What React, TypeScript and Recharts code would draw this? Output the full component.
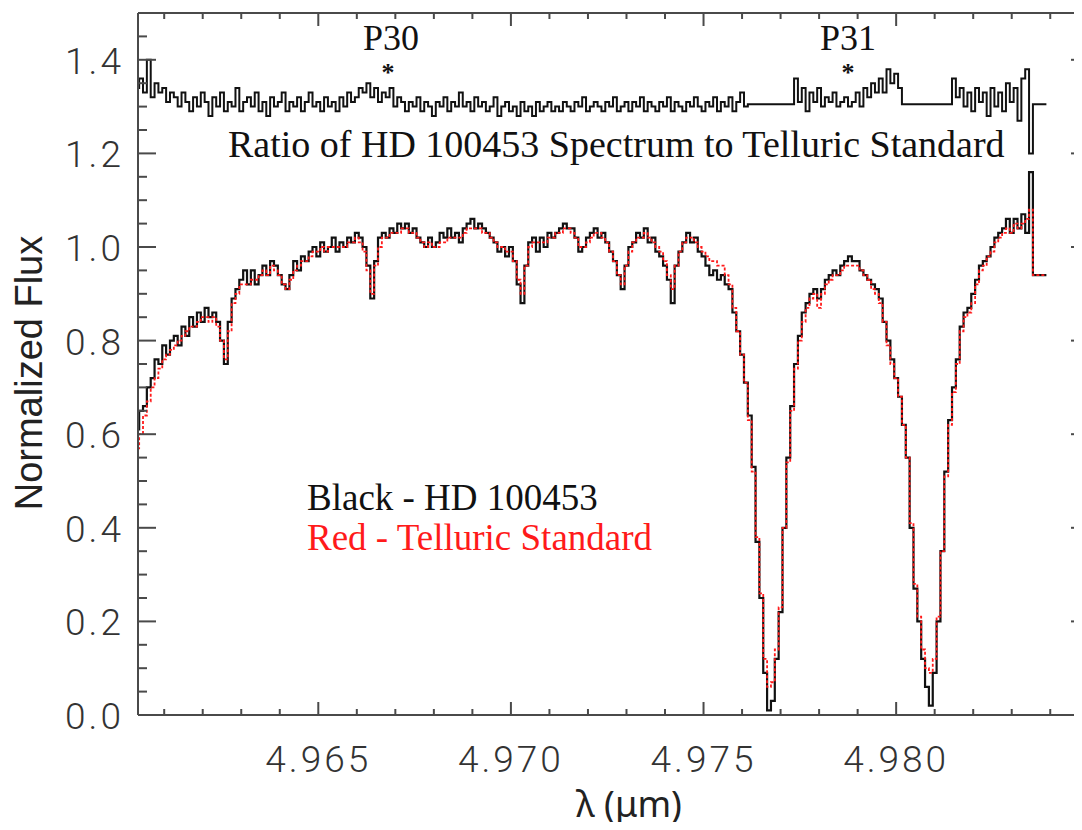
import { Line, LineChart, XAxis, YAxis } from 'recharts'

// wavelength grid of the spectra (µm)
const WL_START = 4.9603
const WL_STEP = 0.0001

// HD 100453, normalized flux (black)
const FLUX = [
  0.61, 0.65, 0.66, 0.7, 0.72, 0.76, 0.75, 0.79, 0.77, 0.8,
  0.81, 0.79, 0.83, 0.81, 0.85, 0.83, 0.86, 0.84, 0.87, 0.85,
  0.86, 0.84, 0.8, 0.75, 0.84, 0.89, 0.91, 0.93, 0.95, 0.92,
  0.95, 0.92, 0.94, 0.96, 0.94, 0.97, 0.96, 0.94, 0.92, 0.91,
  0.94, 0.97, 0.95, 0.98, 0.97, 0.99, 1.0, 0.98, 1.01, 0.99,
  1.0, 1.02, 0.99, 1.01, 1.0, 1.02, 1.01, 1.03, 1.02, 1.0,
  0.96, 0.89, 0.97, 1.02, 1.03, 1.02, 1.04, 1.03, 1.05, 1.04,
  1.05, 1.03, 1.04, 1.02, 1.01, 1.0, 1.02, 1.0, 1.01, 1.03,
  1.02, 1.04, 1.02, 1.03, 1.01, 1.04, 1.05, 1.06, 1.04, 1.05,
  1.04, 1.03, 1.02, 1.01, 0.99, 1.0, 0.98, 1.0, 0.97, 0.92,
  0.88, 0.96, 1.01, 1.02, 0.99, 1.02, 1.0, 1.03, 1.02, 1.03,
  1.04, 1.05, 1.04, 1.04, 1.02, 0.99, 1.0, 1.02, 1.03, 1.04,
  1.02, 1.03, 1.01, 0.99, 0.97, 0.94, 0.91, 0.96, 1.0, 1.01,
  1.03, 1.02, 1.04, 1.01, 1.02, 0.99, 0.98, 0.96, 0.93, 0.88,
  0.96, 0.99, 1.01, 1.03, 1.01, 1.02, 0.99, 0.98, 0.96, 0.94,
  0.95, 0.93, 0.94, 0.92, 0.91, 0.86, 0.82, 0.77, 0.71, 0.64,
  0.53, 0.37, 0.25, 0.09, 0.01, 0.03, 0.12, 0.22, 0.4, 0.55,
  0.66, 0.75, 0.81, 0.86, 0.88, 0.9, 0.91, 0.89, 0.91, 0.93,
  0.94, 0.95, 0.94, 0.96, 0.97, 0.98, 0.97, 0.97, 0.95, 0.94,
  0.93, 0.92, 0.91, 0.89, 0.84, 0.8, 0.76, 0.72, 0.68, 0.62,
  0.55, 0.4, 0.27, 0.2, 0.12, 0.06, 0.02, 0.09, 0.2, 0.35,
  0.52, 0.63, 0.7, 0.76, 0.83, 0.86, 0.87, 0.9, 0.93, 0.96,
  0.97, 0.98, 1.0, 1.02, 1.03, 1.04, 1.06, 1.03, 1.06, 1.04,
  1.07, 1.03, 1.16, 0.94, 0.94, 0.94, 0.94,
]

// telluric standard (red)
const TELLURIC = [
  0.57, 0.6, 0.64, 0.67, 0.7, 0.72, 0.74, 0.76, 0.77, 0.78,
  0.79, 0.8, 0.81, 0.82, 0.83, 0.83, 0.84, 0.85, 0.85, 0.84,
  0.85, 0.83, 0.8, 0.76, 0.82, 0.88, 0.9, 0.92, 0.92, 0.92,
  0.93, 0.93, 0.94, 0.95, 0.94, 0.96, 0.95, 0.94, 0.92, 0.91,
  0.93, 0.95, 0.96, 0.97, 0.97, 0.98, 0.99, 0.99, 1.0, 0.99,
  1.0, 1.0, 1.0, 1.0, 1.0, 1.01, 1.01, 1.02, 1.01, 0.99,
  0.95, 0.9, 0.96, 1.0, 1.02, 1.02, 1.03, 1.03, 1.03, 1.04,
  1.04, 1.03, 1.03, 1.02, 1.01, 1.0, 1.01, 1.0, 1.0, 1.01,
  1.01, 1.02, 1.02, 1.02, 1.02, 1.03, 1.04, 1.04, 1.04, 1.04,
  1.03, 1.03, 1.02, 1.01, 1.0, 1.0, 0.99, 0.99, 0.97, 0.93,
  0.9, 0.96, 1.0, 1.01, 1.01, 1.01, 1.01, 1.02, 1.02, 1.03,
  1.03, 1.04, 1.04, 1.03, 1.02, 1.0, 1.0, 1.01, 1.02, 1.03,
  1.03, 1.02, 1.01, 0.99, 0.97, 0.94, 0.92, 0.96, 0.99, 1.01,
  1.02, 1.02, 1.03, 1.02, 1.01, 1.0, 0.99, 0.97, 0.94, 0.91,
  0.96, 0.99, 1.01, 1.02, 1.02, 1.01, 1.0, 0.99, 0.98, 0.97,
  0.97, 0.96, 0.96, 0.94, 0.92, 0.87, 0.82, 0.77, 0.71, 0.63,
  0.52, 0.38, 0.26, 0.12, 0.06, 0.07, 0.14, 0.23, 0.4, 0.54,
  0.65, 0.74, 0.8, 0.84, 0.87, 0.89, 0.9, 0.87, 0.9, 0.92,
  0.93, 0.94, 0.94, 0.95, 0.96, 0.96, 0.96, 0.96, 0.95, 0.94,
  0.93, 0.91, 0.9, 0.88, 0.84, 0.79, 0.75, 0.72, 0.68, 0.62,
  0.55, 0.41, 0.28, 0.21, 0.14, 0.1, 0.09, 0.12, 0.21, 0.35,
  0.51, 0.62, 0.69, 0.75, 0.82, 0.85, 0.86, 0.88, 0.92, 0.95,
  0.96, 0.98, 0.99, 1.01, 1.02, 1.03, 1.04, 1.03, 1.05, 1.04,
  1.05, 1.06, 1.08, 0.94, 0.94, 0.94, 0.94,
]

// ratio HD 100453 / telluric, offset (flat where no ratio was taken)
const RATIO = [
  1.34, 1.36, 1.33, 1.4, 1.32, 1.35, 1.33, 1.34, 1.31, 1.33,
  1.32, 1.3, 1.33, 1.31, 1.29, 1.32, 1.3, 1.33, 1.31, 1.28,
  1.32, 1.3, 1.33, 1.29, 1.31, 1.3, 1.34, 1.29, 1.31, 1.32,
  1.3, 1.33, 1.29, 1.31, 1.28, 1.32, 1.3, 1.31, 1.33, 1.29,
  1.31, 1.3, 1.32, 1.29, 1.31, 1.33, 1.3, 1.31, 1.29, 1.32,
  1.3, 1.31, 1.29, 1.32, 1.3, 1.33, 1.31, 1.32, 1.34, 1.33,
  1.35, 1.32, 1.34, 1.31, 1.33, 1.32, 1.34, 1.3, 1.32, 1.31,
  1.29, 1.31, 1.3, 1.32, 1.29, 1.31, 1.3, 1.28, 1.31, 1.3,
  1.32, 1.29, 1.31, 1.3, 1.33, 1.3, 1.31, 1.29, 1.32, 1.3,
  1.31, 1.29, 1.3, 1.32, 1.28, 1.3, 1.31, 1.29, 1.3, 1.28,
  1.31, 1.29, 1.3, 1.28, 1.31, 1.29, 1.3, 1.31, 1.29, 1.3,
  1.29, 1.31, 1.3, 1.29, 1.31, 1.3, 1.32, 1.29, 1.3, 1.31,
  1.3, 1.29, 1.31, 1.3, 1.32, 1.29, 1.3, 1.31, 1.29, 1.31,
  1.3, 1.32, 1.29, 1.31, 1.3, 1.29, 1.31, 1.3, 1.32, 1.29,
  1.31, 1.3, 1.29, 1.31, 1.3, 1.32, 1.3, 1.29, 1.31, 1.3,
  1.32, 1.29, 1.31, 1.3, 1.32, 1.29, 1.31, 1.33, 1.3, 1.305,
  1.305, 1.305, 1.305, 1.305, 1.305, 1.305, 1.305, 1.305, 1.305, 1.305,
  1.305, 1.36, 1.31, 1.34, 1.29, 1.33, 1.31, 1.34, 1.3, 1.32,
  1.31, 1.33, 1.3, 1.31, 1.32, 1.3, 1.31, 1.33, 1.3, 1.34,
  1.32, 1.35, 1.33, 1.36, 1.33, 1.38, 1.35, 1.37, 1.34, 1.305,
  1.305, 1.305, 1.305, 1.305, 1.305, 1.305, 1.305, 1.305, 1.305, 1.305,
  1.305, 1.305, 1.36, 1.32, 1.34, 1.3, 1.33, 1.29, 1.34, 1.31,
  1.33, 1.28, 1.34, 1.3, 1.33, 1.29, 1.35, 1.31, 1.34, 1.27,
  1.36, 1.38, 1.2, 1.305, 1.305, 1.305, 1.305,
]

const X_TICKS = [
  4.961, 4.962, 4.963, 4.964, 4.965, 4.966, 4.967, 4.968, 4.969, 4.97,
  4.971, 4.972, 4.973, 4.974, 4.975, 4.976, 4.977, 4.978, 4.979, 4.98,
  4.981, 4.982, 4.983, 4.984,
]
const X_LABELS = ['4.965', '4.970', '4.975', '4.980']
const Y_TICKS = [
  0, 0.05, 0.1, 0.15, 0.2, 0.25, 0.3, 0.35, 0.4, 0.45, 0.5, 0.55, 0.6, 0.65, 0.7, 0.75,
  0.8, 0.85, 0.9, 0.95, 1.0, 1.05, 1.1, 1.15, 1.2, 1.25, 1.3, 1.35, 1.4, 1.45, 1.5,
]
const Y_LABELS = ['0.0', '0.2', '0.4', '0.6', '0.8', '1.0', '1.2', '1.4']

const rows = FLUX.map((f, i) => ({
  wl: WL_START + i * WL_STEP,
  flux: f,
  tell: TELLURIC[i],
  ratio: RATIO[i],
}))

const W = 1100
const H = 830
const LEFT = 138
const RIGHT = 1088
const TOP = 13
const BOTTOM = 715
const AXIS = '#4a4a4a'
const TICK_FONT = { fontFamily: 'Roboto, sans-serif', fontWeight: 300, fontSize: 37, fill: '#333', letterSpacing: 3 }
const SERIF = '"Liberation Serif", "Times New Roman", serif'

const isXLabel = (v: number) => X_LABELS.includes(v.toFixed(3))
const isYLabel = (v: number) => Y_LABELS.includes(v.toFixed(1)) && Math.abs(v * 5 - Math.round(v * 5)) < 1e-6

function BottomTick({ x, payload }: any) {
  const major = isXLabel(payload.value)
  return (
    <g>
      <line x1={x} x2={x} y1={BOTTOM} y2={BOTTOM - (major ? 13 : 6)} stroke={AXIS} strokeWidth={2} />
      {major && (
        <text x={x} y={772} textAnchor="middle" {...TICK_FONT}>
          {payload.value.toFixed(3)}
        </text>
      )}
    </g>
  )
}

function TopTick({ x, payload }: any) {
  const major = isXLabel(payload.value)
  return <line x1={x} x2={x} y1={TOP} y2={TOP + (major ? 13 : 6)} stroke={AXIS} strokeWidth={2} />
}

function LeftTick({ y, payload }: any) {
  const major = isYLabel(payload.value)
  return (
    <g>
      <line x1={LEFT} x2={LEFT + (major ? 18 : 9)} y1={y} y2={y} stroke={AXIS} strokeWidth={2} />
      {major && (
        <text x={LEFT - 14} y={y + 14} textAnchor="end" {...TICK_FONT}>
          {payload.value.toFixed(1)}
        </text>
      )}
    </g>
  )
}

function RightTick({ y, payload }: any) {
  const major = isYLabel(payload.value)
  return <line x1={RIGHT} x2={RIGHT - (major ? 17 : 9)} y1={y} y2={y} stroke={AXIS} strokeWidth={2} />
}

export default function App() {
  return (
    <div style={{ position: 'relative', width: 1082, height: 830, overflow: 'hidden', margin: -8, background: '#fff' }}>
      <LineChart
        width={W}
        height={H}
        data={rows}
        margin={{ top: TOP - 1, right: W - RIGHT - 1, bottom: H - BOTTOM - 1, left: LEFT - 1 }}
      >
        <XAxis
          xAxisId="b"
          dataKey="wl"
          type="number"
          domain={[4.96032, 4.98498]}
          allowDataOverflow
          ticks={X_TICKS}
          interval={0}
          height={1}
          tickSize={0}
          tickLine={false}
          axisLine={{ stroke: AXIS, strokeWidth: 2 }}
          tick={<BottomTick />}
        />
        <XAxis
          xAxisId="t"
          orientation="top"
          dataKey="wl"
          type="number"
          domain={[4.96032, 4.98498]}
          allowDataOverflow
          ticks={X_TICKS}
          interval={0}
          height={1}
          tickSize={0}
          tickLine={false}
          axisLine={{ stroke: AXIS, strokeWidth: 2 }}
          tick={<TopTick />}
        />
        <YAxis
          yAxisId="l"
          type="number"
          domain={[0, 1.5]}
          allowDataOverflow
          ticks={Y_TICKS}
          interval={0}
          width={1}
          tickSize={0}
          tickLine={false}
          axisLine={{ stroke: AXIS, strokeWidth: 2 }}
          tick={<LeftTick />}
        />
        <YAxis
          yAxisId="r"
          orientation="right"
          type="number"
          domain={[0, 1.5]}
          allowDataOverflow
          ticks={Y_TICKS}
          interval={0}
          width={1}
          tickSize={0}
          tickLine={false}
          axisLine={{ stroke: AXIS, strokeWidth: 2 }}
          tick={<RightTick />}
        />
        <Line
          xAxisId="b"
          yAxisId="l"
          dataKey="ratio"
          type="step"
          stroke="#111"
          strokeWidth={2}
          dot={false}
          isAnimationActive={false}
        />
        <Line
          xAxisId="b"
          yAxisId="l"
          dataKey="flux"
          type="step"
          stroke="#111"
          strokeWidth={2.2}
          dot={false}
          isAnimationActive={false}
        />
        <Line
          xAxisId="b"
          yAxisId="l"
          dataKey="tell"
          type="step"
          stroke="#ff1a1a"
          strokeWidth={1.8}
          strokeDasharray="3 2"
          dot={false}
          isAnimationActive={false}
        />
      </LineChart>
      <svg width={1082} height={830} style={{ position: 'absolute', left: 0, top: 0, pointerEvents: 'none' }}>
        <text x={391} y={50} textAnchor="middle" fontFamily={SERIF} fontSize={36} fill="#111">P30</text>
        <text x={388} y={81} textAnchor="middle" fontFamily={SERIF} fontSize={26} fontWeight={700} fill="#111">*</text>
        <text x={848} y={50} textAnchor="middle" fontFamily={SERIF} fontSize={36} fill="#111">P31</text>
        <text x={848} y={81} textAnchor="middle" fontFamily={SERIF} fontSize={26} fontWeight={700} fill="#111">*</text>
        <text x={228} y={157} fontFamily={SERIF} fontSize={38} fill="#111">
          Ratio of HD 100453 Spectrum to Telluric Standard
        </text>
        <text x={307} y={510} fontFamily={SERIF} fontSize={37} fill="#111">Black - HD 100453</text>
        <text x={307} y={550} fontFamily={SERIF} fontSize={37} fill="#ff1a1a">Red - Telluric Standard</text>
        <text
          x={42}
          y={373}
          transform="rotate(-90 42 373)"
          textAnchor="middle"
          fontFamily='"Liberation Sans", Arial, sans-serif'
          fontSize={38}
          fill="#222"
        >
          Normalized Flux
        </text>
        <text x={629} y={817} textAnchor="middle" fontFamily='"Noto Sans", sans-serif' fontSize={36} fill="#222">
          λ (μm)
        </text>
      </svg>
    </div>
  )
}
